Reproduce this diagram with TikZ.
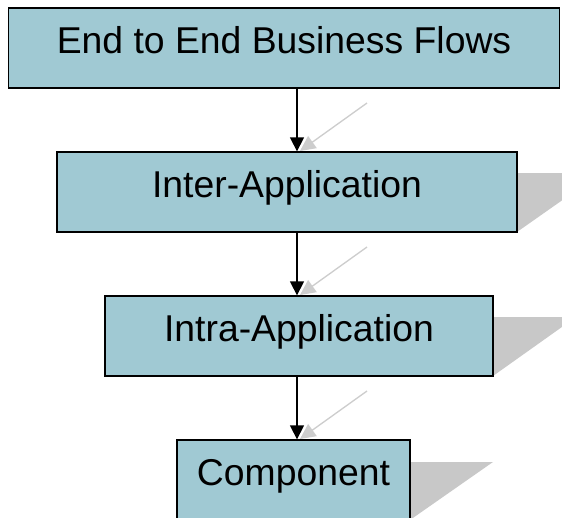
\documentclass[tikz,border=0pt]{standalone}
\usepackage{fontspec}
\setmainfont{Liberation Sans}
\usetikzlibrary{arrows.meta}
\definecolor{boxfill}{RGB}{160,201,211}
\definecolor{shadowc}{RGB}{200,200,200}
\definecolor{ghost}{RGB}{205,205,205}
\tikzset{
  flowbox/.style={draw=black, line width=1.3pt, fill=boxfill, minimum height=60pt, inner sep=0pt, outer sep=0pt},
  lbl/.style={font=\fontsize{28}{30}\selectfont, inner sep=0pt, anchor=base},
  flowarrow/.style={line width=1.1pt, -{Triangle[length=10.5pt,width=10.5pt]}, shorten >=0.5pt},
  ghostarrow/.style={draw=ghost, line width=1pt, -{Triangle[length=11.5pt,width=11pt]}},
  boxshadow/.style={fill=shadowc}
}
\begin{document}
\begin{tikzpicture}[x=0.75pt,y=-0.75pt]
\useasboundingbox (0,0) rectangle (562,518);
\clip (0,0) rectangle (562,518);
% box shadows
\coordinate (s2a) at (517,173);
\coordinate (s2b) at (517,232);
\coordinate (s3a) at (493,317);
\coordinate (s3b) at (493,376);
\coordinate (s4a) at (410,462);
\coordinate (s4b) at (410,520);
\fill[boxshadow] (s2a) -- ++(84,0) -- (s2b) -- cycle;
\fill[boxshadow] (s3a) -- ++(83,0) -- (s3b) -- cycle;
\fill[boxshadow] (s4a) -- ++(83,0) -- (s4b) -- cycle;
% shadows of the connectors
\coordinate (g1) at (367,103);
\coordinate (g2) at (367,247);
\coordinate (g3) at (367,391);
\coordinate (h1) at (300,151);
\coordinate (h2) at (300,295);
\coordinate (h3) at (300,439);
\draw[ghostarrow] (g1) -- (h1);
\draw[ghostarrow] (g2) -- (h2);
\draw[ghostarrow] (g3) -- (h3);
% boxes
\node[flowbox, minimum width=413.25pt] (b1) at (284,48) {};
\node[flowbox, minimum width=345pt] (b2) at (287,192) {};
\node[flowbox, minimum width=291pt] (b3) at (299,336) {};
\node[flowbox, minimum width=174.75pt] (b4) at (293.5,480) {};
% labels
\node[lbl] (t1) at ([yshift=-34pt]b1.north) {End to End Business Flows};
\node[lbl] (t2) at ([yshift=-34pt]b2.north) {Inter-Application};
\node[lbl] (t3) at ([yshift=-34pt]b3.north) {Intra-Application};
\node[lbl] (t4) at ([yshift=-34pt]b4.north) {Component};
% connectors
\coordinate (ax) at (297,0);
\draw[flowarrow] (b1.south -| ax) -- (b2.north -| ax);
\draw[flowarrow] (b2.south -| ax) -- (b3.north -| ax);
\draw[flowarrow] (b3.south -| ax) -- (b4.north -| ax);
\end{tikzpicture}
\end{document}
